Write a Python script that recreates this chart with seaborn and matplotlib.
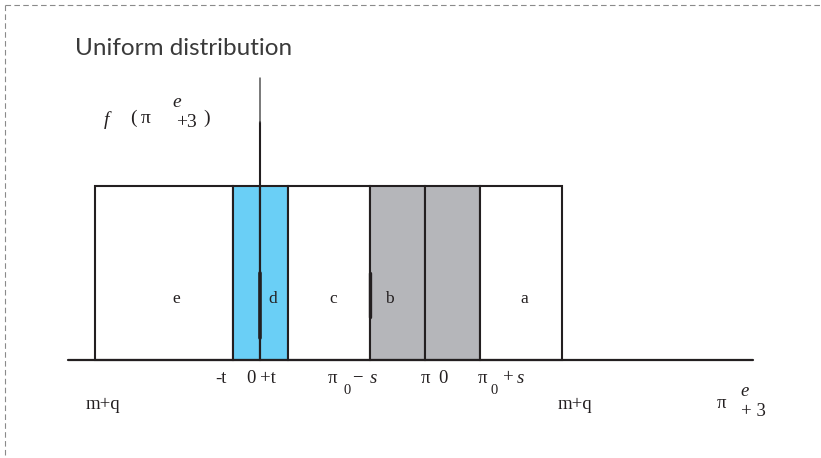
import matplotlib
matplotlib.use("Agg")
import matplotlib.pyplot as plt
import seaborn as sns

# segment edges along the axis (pixel-like units) and their fills
edges = [95, 233, 260, 288, 370, 425, 480, 562]
fills = ["white", "#6acff6", "#6acff6", "white", "#b5b6ba", "#b5b6ba", "white"]
height = 1.0

# region letters and where they sit
region_labels = ["e", "d", "c", "b", "a"]
region_x = [176, 273, 333, 389, 524]

axis_x = 260
axis_top = 1.62
base_x = [68, 753]

sns.set_theme(style="white")
plt.rcParams["font.family"] = ["Liberation Serif", "DejaVu Sans"]

fig = plt.figure(figsize=(8.21, 4.58), dpi=100)
ax = fig.add_axes([0, 0, 1, 1])
ax.set_xlim(0, 821)
ax.set_ylim(-0.563, 2.069)
ax.axis("off")


def py(p):
    # pixel row -> data y
    return (360 - p) / 174


ink = "#231f20"
lefts = edges[:-1]
widths = [b - a for a, b in zip(edges[:-1], edges[1:])]
ax.bar(lefts, [height] * len(lefts), width=widths, align="edge",
       color=fills, edgecolor=ink, linewidth=1.5, zorder=2)

# baseline and vertical axis
sns.lineplot(x=base_x, y=[0, 0], ax=ax, color=ink, linewidth=1.6, zorder=4)
ax.plot([axis_x, axis_x], [0, py(122)], color=ink, linewidth=1.5, zorder=4)
ax.plot([axis_x, axis_x], [py(122), axis_top], color="#555555", linewidth=1.1, zorder=4)
ax.plot([axis_x, axis_x], [py(338), py(273)], color=ink, linewidth=2.6, zorder=4)
ax.plot([edges[4], edges[4]], [py(317), py(273)], color=ink, linewidth=2.4, zorder=4)

for lab, x in zip(region_labels, region_x):
    ax.text(x, py(299), lab, ha="center", va="center", fontsize=12.5, color=ink)

# labels below the baseline
ly = py(378)
sy = py(390)
fs = 13.5
ax.text(221, ly, "-t", ha="center", va="center", fontsize=fs, color=ink)
ax.text(251, ly, "0", ha="center", va="center", fontsize=fs, color=ink)
ax.text(268, ly, "+t", ha="center", va="center", fontsize=fs, color=ink)
ax.text(332, ly, "π", ha="center", va="center", fontsize=fs, color=ink)
ax.text(347.5, sy, "0", ha="center", va="center", fontsize=10.5, color=ink)
ax.text(357.5, ly, "−", ha="center", va="center", fontsize=fs, color=ink)
ax.text(373, ly, "s", ha="center", va="center", fontsize=fs, color=ink, style="italic")
ax.text(425, ly, "π", ha="center", va="center", fontsize=fs, color=ink)
ax.text(443, ly, "0", ha="center", va="center", fontsize=fs, color=ink)
ax.text(482, ly, "π", ha="center", va="center", fontsize=fs, color=ink)
ax.text(494.5, sy, "0", ha="center", va="center", fontsize=10.5, color=ink)
ax.text(508, ly, "+", ha="center", va="center", fontsize=fs, color=ink)
ax.text(520, ly, "s", ha="center", va="center", fontsize=fs, color=ink, style="italic")

ax.text(103, py(404), "m+q", ha="center", va="center", fontsize=fs, color=ink)
ax.text(575, py(404), "m+q", ha="center", va="center", fontsize=fs, color=ink)
ax.text(721, py(403), "π", ha="center", va="center", fontsize=fs, color=ink)
ax.text(745, py(391), "e", ha="center", va="center", fontsize=fs, color=ink, style="italic")
ax.text(753, py(411), "+ 3", ha="center", va="center", fontsize=fs, color=ink)

# f(pi e +3) label near the axis
ax.text(106, py(120), "f", ha="center", va="center", fontsize=14, color=ink, style="italic")
ax.text(133, py(118), "(", ha="center", va="center", fontsize=14, color=ink)
ax.text(146, py(118), "π", ha="center", va="center", fontsize=14, color=ink)
ax.text(177, py(102), "e", ha="center", va="center", fontsize=14, color=ink, style="italic")
ax.text(186, py(122), "+3", ha="center", va="center", fontsize=14, color=ink)
ax.text(207, py(118), ")", ha="center", va="center", fontsize=14, color=ink)

# title
ax.text(75, py(48), "Uniform distribution", ha="left", va="center",
        fontsize=17.5, color="#3a3a3a", family="Lato")

# dashed frame on top and left
ax.plot([5, 821], [py(5)] * 2, color="#8a8a8a", linewidth=0.8,
        linestyle=(0, (5, 3)), zorder=1)
ax.plot([5, 5], [py(5), -0.563], color="#8a8a8a", linewidth=0.8,
        linestyle=(0, (5, 3)), zorder=1)

fig.savefig("out.png", dpi=100)
